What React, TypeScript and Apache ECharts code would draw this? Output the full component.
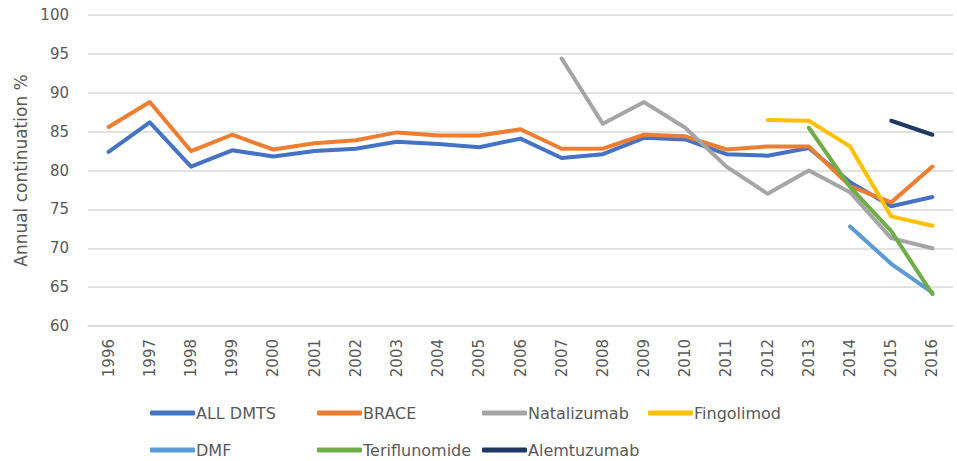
import React, { useEffect, useRef } from "react";
import * as echarts from "echarts";

const years = ["1996","1997","1998","1999","2000","2001","2002","2003","2004","2005","2006","2007","2008","2009","2010","2011","2012","2013","2014","2015","2016"];
const yTicks = { min: 60, max: 100, interval: 5 };

const allDmts = [82.4, 86.2, 80.5, 82.6, 81.8, 82.5, 82.8, 83.7, 83.4, 83.0, 84.1, 81.6, 82.1, 84.2, 84.0, 82.1, 81.9, 82.9, 78.5, 75.4, 76.6];
const brace = [85.6, 88.8, 82.5, 84.6, 82.7, 83.5, 83.9, 84.9, 84.5, 84.5, 85.3, 82.8, 82.8, 84.6, 84.4, 82.7, 83.1, 83.1, 78.0, 75.9, 80.5];
const natalizumab = [null, null, null, null, null, null, null, null, null, null, null, 94.4, 86.0, 88.8, 85.5, 80.5, 77.0, 80.0, 77.2, 71.3, 70.0];
const fingolimod = [null, null, null, null, null, null, null, null, null, null, null, null, null, null, null, null, 86.5, 86.4, 83.1, 74.1, 72.9];
const dmf = [null, null, null, null, null, null, null, null, null, null, null, null, null, null, null, null, null, null, 72.8, 68.0, 64.3];
const teriflunomide = [null, null, null, null, null, null, null, null, null, null, null, null, null, null, null, null, null, 85.5, 77.9, 72.2, 64.1];
const alemtuzumab = [null, null, null, null, null, null, null, null, null, null, null, null, null, null, null, null, null, null, null, 86.4, 84.6];

const seriesDefs = [
  { name: "ALL DMTS", data: allDmts, color: "#4472C4" },
  { name: "BRACE", data: brace, color: "#ED7D31" },
  { name: "Natalizumab", data: natalizumab, color: "#A5A5A5" },
  { name: "Fingolimod", data: fingolimod, color: "#FFC000" },
  { name: "DMF", data: dmf, color: "#5B9BD5" },
  { name: "Teriflunomide", data: teriflunomide, color: "#70AD47" },
  { name: "Alemtuzumab", data: alemtuzumab, color: "#1F3864" },
];

const legendPos = [
  [150, 405], [317, 405], [482, 405], [648, 405],
  [150, 442], [317, 442], [482, 442],
];

export default function App() {
  const ref = useRef<HTMLDivElement>(null);
  useEffect(() => {
    document.body.style.margin = "0";
    const chart = echarts.init(ref.current!, null, { renderer: "svg" });
    const font = "DejaVu Sans";
    chart.setOption({
      animation: false,
      backgroundColor: "#ffffff",
      grid: { left: 88, right: 4, top: 15, bottom: 135 },
      xAxis: {
        type: "category",
        data: years,
        boundaryGap: true,
        axisLine: { show: true, lineStyle: { color: "#d9d9d9", width: 1.5 } },
        axisTick: { show: false },
        axisLabel: { rotate: 90, margin: 13, color: "#595959", fontSize: 15, fontFamily: font, interval: 0 },
      },
      yAxis: {
        type: "value",
        min: yTicks.min,
        max: yTicks.max,
        interval: yTicks.interval,
        name: "Annual continuation %",
        nameLocation: "middle",
        nameGap: 58,
        nameTextStyle: { color: "#595959", fontSize: 17, fontFamily: font },
        axisLine: { show: false },
        axisTick: { show: false },
        axisLabel: { margin: 19, color: "#595959", fontSize: 15, fontFamily: font },
        splitLine: { lineStyle: { color: "#d9d9d9", width: 1.5 } },
      },
      legend: seriesDefs.map((s, i) => ({
        data: [s.name],
        left: legendPos[i][0],
        top: legendPos[i][1],
        padding: 0,
        itemWidth: 45,
        itemHeight: 5,
        itemGap: 0,
        icon: "roundRect",
        textStyle: { color: "#595959", fontSize: 16, fontFamily: font, padding: [0, 0, 0, -4] },
      })),
      series: seriesDefs.map((s) => ({
        name: s.name,
        type: "line",
        data: s.data,
        color: s.color,
        showSymbol: false,
        symbol: "none",
        connectNulls: false,
        lineStyle: { width: 4, color: s.color, cap: "round", join: "round" },
        itemStyle: { color: s.color },
      })),
    });
    return () => chart.dispose();
  }, []);
  return <div ref={ref} style={{ width: 957, height: 461 }} />;
}
